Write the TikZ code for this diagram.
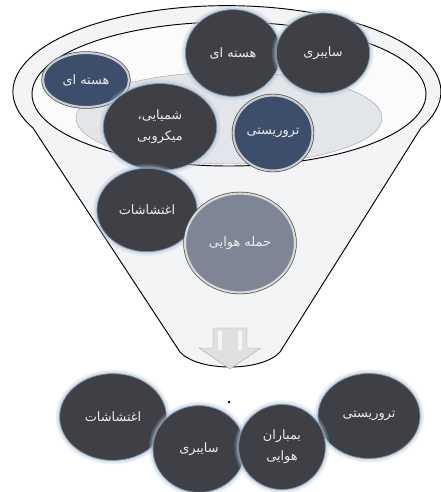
\documentclass[tikz,border=0pt]{standalone}
\usepackage{fontspec}
\usetikzlibrary{shapes.geometric}
\newfontfamily\arabicfont[Script=Arabic]{DejaVu Sans}
\TeXXeTstate=1
\newcommand\fa[1]{\beginR#1\endR}
\definecolor{ballgray}{RGB}{62,64,69}
\definecolor{ballblue}{RGB}{60,78,108}
\definecolor{ballsteel}{RGB}{126,134,150}
\definecolor{glow}{RGB}{175,195,215}
\definecolor{funnelfill}{RGB}{243,244,245}
\definecolor{rimfill}{RGB}{251,251,251}
\definecolor{dishfill}{RGB}{226,229,233}
\definecolor{balltext}{RGB}{236,236,236}
\begin{document}
\begin{tikzpicture}[x=0.03cm,y=-0.03cm, line join=round, line cap=round]
	\tikzset{ball/.style={ellipse, inner sep=0pt, align=center, text=balltext, font=\arabicfont\fontsize{11}{18}\selectfont},
		darkball/.style={ball, fill=ballgray, draw={rgb,255:red,120;green,140;blue,165}, line width=.6pt,
			preaction={draw=glow, line width=7pt, opacity=.25}, preaction={draw=glow, line width=3.5pt, opacity=.45}},
		blueball/.style={ball, fill=ballblue, draw=gray!40, line width=1.8pt, preaction={draw=gray!60!black, line width=3pt}},
		steelball/.style={ball, fill=ballsteel, draw=gray!30, line width=1.8pt, preaction={draw=gray!60!black, line width=3pt}}}
	\useasboundingbox (0,0) rectangle (441,492);
	% funnel
	\draw[fill=funnelfill, line width=.8pt] (180,352) -- (33,128)
		arc[start angle=155, end angle=385, x radius=214, y radius=86]
		-- (280,352) .. controls (262,372) and (198,372) .. (180,352);
	\draw[fill=rimfill, line width=.8pt] (229,94) ellipse[x radius=197, y radius=72];
	\draw[fill=dishfill, draw=gray!70] (229,118) ellipse[x radius=153, y radius=46];
	% arrow
	\draw[fill=gray!25, draw=gray!65] (213,328) -- (247,328) -- (247,348) -- (261,348)
		-- (230,369) -- (199,348) -- (213,348) -- cycle;
	\fill[white, opacity=.7] (218,331) rectangle (222,350) (238,331) rectangle (242,350);
	\fill (229,402) circle (1.3);
	% balls in the funnel
	\node[blueball, minimum width=2.58cm, minimum height=1.62cm] (hastehsmall) at (86,80) {\fa{هسته ای}};
	\node[darkball, minimum width=2.85cm, minimum height=2.6cm] (hasteh) at (233,53) {\fa{هسته ای}};
	\node[darkball, minimum width=2.8cm, minimum height=2.4cm] (sayberi) at (323,53) {\fa{سایبری}};
	\node[darkball, minimum width=3.4cm, minimum height=2.6cm] (shimiyai) at (160,127) {\fa{شمیایی،}\\\fa{میکروبی}};
	\node[blueball, minimum width=2.37cm, minimum height=2.25cm] (terror) at (273,133) {\fa{تروریستی}};
	\node[darkball, minimum width=3cm, minimum height=2.5cm] (eghteshash) at (147,210) {\fa{اغتشاشات}};
	\node[steelball, minimum width=3.3cm, minimum height=2.97cm] (hamle) at (240,243) {\fa{حمله هوایی}};
	% balls below
	\node[darkball, minimum width=3.2cm, minimum height=2.6cm] (eghteshashB) at (113,417) {\fa{اغتشاشات}};
	\node[darkball, minimum width=3.06cm, minimum height=2.55cm] (terrorB) at (369,416) {\fa{تروریستی}};
	\node[darkball, minimum width=2.76cm, minimum height=2.6cm] (sayberiB) at (199,449) {\fa{سایبری}};
	\node[darkball, minimum width=2.6cm, minimum height=2.55cm] (bombaranB) at (282,447) {\fa{بمباران}\\\fa{هوایی}};
\end{tikzpicture}
\end{document}
